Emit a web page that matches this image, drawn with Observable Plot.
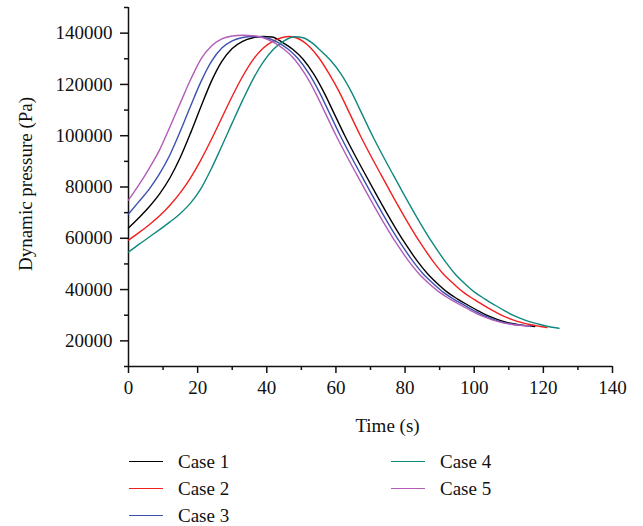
<!DOCTYPE html>
<html>
<head>
<meta charset="utf-8">
<script src="https://cdn.jsdelivr.net/npm/d3@7"></script>
<script src="https://cdn.jsdelivr.net/npm/@observablehq/plot@0.6"></script>
<style>
  html, body { margin: 0; padding: 0; background: #fff; }
  #chart { width: 643px; }
  #legend {
    display: grid;
    grid-auto-flow: column;
    grid-template-rows: repeat(3, 27px);
    grid-template-columns: 262px 200px;
    padding-left: 129px;
    padding-top: 8px;
    font-family: "Liberation Serif", "Times New Roman", serif;
    font-size: 19px;
    color: #111;
  }
  .item { display: flex; align-items: center; }
  .sw { width: 34px; height: 0; margin-right: 15px; }
</style>
</head>
<body>
<div id="chart"></div>
<div id="legend"></div>
<script>
const cases = ["Case 1", "Case 2", "Case 3", "Case 4", "Case 5"];
const caseColors = ["#000000", "#f21f1f", "#3c51b0", "#0f887e", "#b35cb8"];

const xDomain = [0, 140];
const yDomain = [10000, 150000];
const xTicks = [0, 20, 40, 60, 80, 100, 120, 140];
const xMinorTicks = [10, 30, 50, 70, 90, 110, 130];
const yTicks = [20000, 40000, 60000, 80000, 100000, 120000, 140000];
const yMinorTicks = [10000, 30000, 50000, 70000, 90000, 110000, 130000, 150000];

// Case 1 (black)
const time1 = [0, 3, 6, 9, 12, 15, 18, 21, 24, 27, 30, 33, 36, 39, 41.5, 44.5, 47.5, 50.5, 53.5, 56.5, 59.5, 62.5, 65.5, 68.5, 71.5, 74.5, 77.5, 80.5, 83.5, 86.5, 89.4, 92.3, 95.2, 98.1, 101, 103.9, 106.8, 109.7, 112.5, 115.2, 117.5];
const pressure1 = [64000, 68000, 72300, 77300, 83600, 91600, 101200, 111500, 121300, 129000, 134000, 136800, 138200, 138700, 138500, 136400, 133700, 129800, 124200, 117000, 108600, 100200, 92400, 84900, 77500, 70300, 63400, 57000, 51200, 46200, 42300, 38900, 36300, 34000, 31800, 29800, 28300, 27100, 26400, 25950, 25600];
// Case 2 (red)
const time2 = [0, 3, 6, 9, 12, 15, 18, 21, 24, 27, 30, 33, 36, 39, 42, 44.5, 46.5, 48.5, 50.5, 52.5, 55, 58, 61, 64, 67, 70, 73, 76, 79, 82, 85, 88, 91, 94, 96.9, 99.8, 102.6, 105.4, 108.2, 111, 113.8, 116.4, 118.8, 121];
const pressure2 = [59300, 62200, 65300, 68800, 72900, 77800, 83700, 90700, 98600, 107000, 115400, 123100, 129600, 134200, 137000, 138300, 138700, 138200, 136800, 134500, 130500, 124200, 117000, 108600, 100200, 92400, 84900, 77500, 70300, 63400, 57000, 51200, 46200, 42300, 38900, 36300, 34000, 31800, 29800, 28300, 27100, 26300, 25700, 25200];
// Case 3 (blue)
const time3 = [0, 3, 6, 9, 12, 15, 18, 21, 24, 27, 30, 33, 36, 39, 43.2, 46.2, 49.2, 52.2, 55.2, 58.2, 61.2, 64.2, 67.2, 70.2, 73.2, 76.2, 79.2, 82.2, 85.2, 88.2, 91.1, 94, 97, 99.9, 102.8, 105.7, 108.6, 111.5, 114.3, 116.5];
const pressure3 = [69500, 74300, 79200, 85200, 92600, 101800, 111700, 121200, 129000, 134200, 137000, 138300, 138700, 138400, 136400, 133700, 129800, 124200, 117000, 108600, 100200, 92400, 84900, 77500, 70300, 63400, 57000, 51200, 46200, 42300, 38900, 36300, 34000, 31800, 29800, 28300, 27100, 26400, 25950, 25700];
// Case 4 (teal)
const time4 = [0, 3, 6, 9, 12, 15, 18, 21, 24, 27, 30, 33, 36, 39, 42, 45, 48, 50.5, 53, 55.5, 58.5, 61.5, 64.5, 67.5, 70.5, 73.5, 76.5, 79.5, 82.5, 85.5, 88.5, 91.5, 94.4, 97.3, 100.2, 103.1, 105.9, 108.7, 111.5, 114.3, 117, 119.6, 122.1, 124.5];
const pressure4 = [54600, 57600, 60500, 63400, 66400, 69700, 73800, 79500, 87200, 96000, 105000, 113800, 122000, 128800, 133800, 137000, 138600, 138200, 136300, 133300, 129300, 124000, 117000, 108600, 100200, 92400, 84900, 77500, 70300, 63400, 57000, 51200, 46200, 42300, 38900, 36300, 34000, 31800, 29800, 28300, 27100, 26200, 25400, 24900];
// Case 5 (purple)
const time5 = [0, 3, 6, 9, 12, 15, 18, 21, 24, 27, 30, 33, 36, 39, 42, 45, 48, 51, 54, 57, 60, 63, 66, 69, 72, 75, 78, 81, 84, 87, 90, 93, 96, 99, 102, 105, 108, 111, 114, 116];
const pressure5 = [74900, 80800, 87300, 94500, 103500, 112800, 122000, 130000, 135000, 137800, 138900, 139200, 139000, 138200, 136400, 133700, 129800, 124200, 117000, 108600, 100200, 92400, 84900, 77500, 70300, 63400, 57000, 51200, 46200, 42300, 38900, 36300, 34000, 31800, 29800, 28300, 27100, 26400, 26000, 25800];

const seriesTimes = [time1, time2, time3, time4, time5];
const seriesPressures = [pressure1, pressure2, pressure3, pressure4, pressure5];

const rows = [];
cases.forEach((c, i) => {
  seriesTimes[i].forEach((t, j) => rows.push({case: c, t, p: seriesPressures[i][j]}));
});

const font = "'Liberation Serif', 'Times New Roman', serif";

const chart = Plot.plot({
  width: 643,
  height: 440,
  marginLeft: 128,
  marginRight: 31,
  marginTop: 7,
  marginBottom: 74,
  style: {fontFamily: font, fontSize: "19px", color: "#111", background: "#fff", overflow: "visible"},
  x: {domain: xDomain},
  y: {domain: yDomain},
  color: {domain: cases, range: caseColors},
  marks: [
    Plot.axisX({ticks: xMinorTicks, tickSize: 4, tickFormat: () => "", label: null, strokeWidth: 1.5}),
    Plot.axisX({ticks: xTicks, tickSize: 7, tickPadding: 7, tickFormat: d => String(d), label: null, strokeWidth: 1.5}),
    Plot.axisY({ticks: yMinorTicks, tickSize: 4, tickFormat: () => "", label: null, strokeWidth: 1.5}),
    Plot.axisY({ticks: yTicks, tickSize: 8, tickPadding: 8, tickFormat: d => String(d), label: null, strokeWidth: 1.5}),
    Plot.ruleX([xDomain[0]], {stroke: "#111", strokeWidth: 1.5}),
    Plot.ruleY([yDomain[0]], {stroke: "#111", strokeWidth: 1.5}),
    Plot.line(rows, {x: "t", y: "p", z: "case", stroke: "case", strokeWidth: 1.4, curve: "monotone-x"}),
    Plot.text(["Time (s)"], {text: d => d, frameAnchor: "bottom", dx: 17, dy: 59, lineAnchor: "middle", fontSize: 19}),
    Plot.text(["Dynamic pressure (Pa)"], {text: d => d, frameAnchor: "left", textAnchor: "middle", rotate: -90, dx: -103, dy: -3, lineAnchor: "middle", fontSize: 19})
  ]
});
document.getElementById("chart").appendChild(chart);

const legend = document.getElementById("legend");
cases.forEach((c, i) => {
  const item = document.createElement("div");
  item.className = "item";
  const sw = document.createElement("span");
  sw.className = "sw";
  sw.style.borderTop = `1.6px solid ${caseColors[i]}`;
  const label = document.createElement("span");
  label.textContent = c;
  item.appendChild(sw);
  item.appendChild(label);
  legend.appendChild(item);
});
</script>
</body>
</html>
